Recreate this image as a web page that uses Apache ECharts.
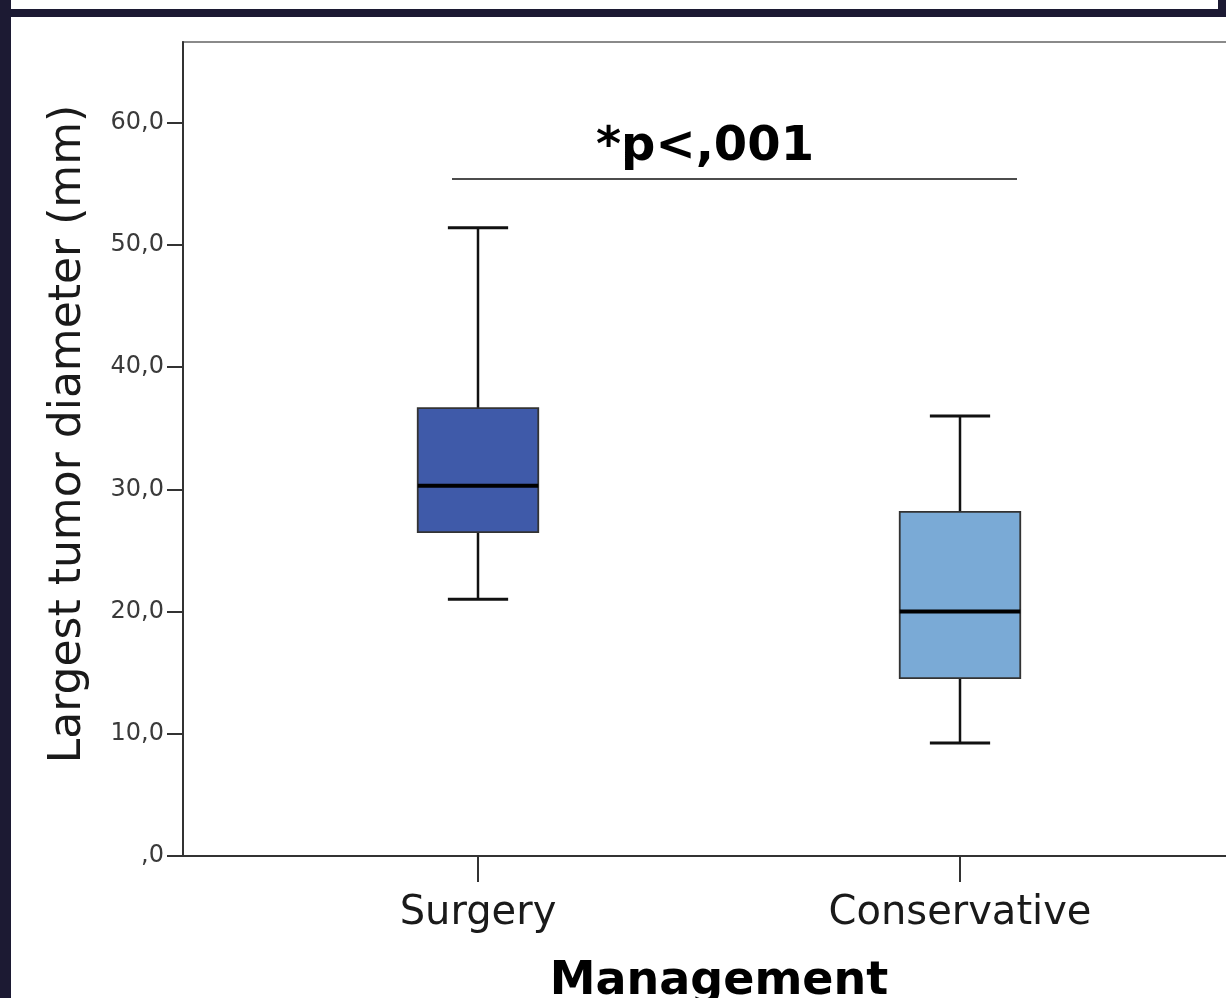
<!DOCTYPE html>
<html>
<head>
<meta charset="utf-8">
<script src="https://cdn.jsdelivr.net/npm/echarts@6/dist/echarts.min.js"></script>
<style>
html,body{margin:0;padding:0;background:#fff;}
#chart{width:1226px;height:998px;}
</style>
</head>
<body>
<div id="chart"></div>
<script>
// ---- data ----
const categories = ['Surgery', 'Conservative'];
const whiskerLow = [21.0, 9.25];
const q1Values = [26.5, 14.55];
const medianValues = [30.3, 20.0];
const q3Values = [36.65, 28.15];
const whiskerHigh = [51.4, 36.0];
const yTickValues = [0, 10, 20, 30, 40, 50, 60];
const boxColors = ['#3f5aa9', '#7aaad6'];
const yAxisMax = 66.6;
const pValueText = '*p<,001';

const seriesData = categories.map((c, i) => [i, whiskerLow[i], q1Values[i], medianValues[i], q3Values[i], whiskerHigh[i]]);

function fmtTick(v) {
  return v === 0 ? ',0' : v + ',0';
}

const chart = echarts.init(document.getElementById('chart'), null, {renderer: 'canvas'});

const option = {
  backgroundColor: '#ffffff',
  animation: false,
  grid: [
    {left: 183, top: 42, right: -20, bottom: 142, outerBoundsMode: 'none', containLabel: false,
      show: true, borderColor: '#8a8a8a', borderWidth: 2, backgroundColor: 'transparent'},
    {left: 237, top: 42, right: 25, bottom: 142, outerBoundsMode: 'none', containLabel: false}
  ],
  xAxis: [
    {
      gridIndex: 0, type: 'value', min: 0, max: 1,
      axisLine: {show: true, lineStyle: {color: '#333', width: 2}},
      axisTick: {show: false}, axisLabel: {show: false}, splitLine: {show: false}
    },
    {
      gridIndex: 1, type: 'category', data: categories,
      axisLine: {show: false},
      axisTick: {show: true, alignWithLabel: true, length: 26, lineStyle: {color: '#333', width: 2}},
      axisLabel: {fontFamily: 'DejaVu Sans', fontSize: 40, color: '#1a1a1a', margin: 38},
      splitLine: {show: false},
      name: 'Management', nameLocation: 'middle', nameGap: 103,
      nameTextStyle: {fontFamily: 'DejaVu Sans', fontWeight: 'bold', fontSize: 46, color: '#000'}
    }
  ],
  yAxis: [
    {
      gridIndex: 0, type: 'value', min: 0, max: yAxisMax,
      axisLine: {show: true, lineStyle: {color: '#333', width: 2}},
      axisTick: {show: true, inside: false, length: 16, customValues: yTickValues, lineStyle: {color: '#333', width: 2}},
      axisLabel: {customValues: yTickValues, formatter: fmtTick, fontFamily: 'DejaVu Sans', fontSize: 24, color: '#3a3a3a', margin: 19, padding: [4, 0, 0, 0]},
      splitLine: {show: false},
      name: 'Largest tumor diameter (mm)', nameLocation: 'middle', nameGap: 92,
      nameTextStyle: {fontFamily: 'DejaVu Sans', fontSize: 44, color: '#1a1a1a', padding: [0, 0, 0, 30]}
    },
    {
      gridIndex: 1, type: 'value', min: 0, max: yAxisMax, show: false,
      splitLine: {show: false}
    }
  ],
  series: [
    {
      type: 'custom',
      xAxisIndex: 1, yAxisIndex: 1,
      data: seriesData,
      encode: {x: 0, y: [1, 2, 3, 4, 5]},
      renderItem: function (params, api) {
        const idx = api.value(0);
        const band = api.size([1, 0])[0];
        const halfBox = band * 0.25 / 2;
        const halfCap = band * 0.125 / 2;
        const pLow = api.coord([idx, api.value(1)]);
        const pQ1 = api.coord([idx, api.value(2)]);
        const pMed = api.coord([idx, api.value(3)]);
        const pQ3 = api.coord([idx, api.value(4)]);
        const pHigh = api.coord([idx, api.value(5)]);
        const cx = pMed[0];
        const whisker = {stroke: '#111', lineWidth: 2.5};
        const cap = {stroke: '#111', lineWidth: 3};
        return {
          type: 'group',
          children: [
            {type: 'line', shape: {x1: cx, y1: pHigh[1], x2: cx, y2: pQ3[1]}, style: whisker},
            {type: 'line', shape: {x1: cx, y1: pQ1[1], x2: cx, y2: pLow[1]}, style: whisker},
            {type: 'line', shape: {x1: cx - halfCap, y1: pHigh[1], x2: cx + halfCap, y2: pHigh[1]}, style: cap},
            {type: 'line', shape: {x1: cx - halfCap, y1: pLow[1], x2: cx + halfCap, y2: pLow[1]}, style: cap},
            {type: 'rect', shape: {x: cx - halfBox, y: pQ3[1], width: halfBox * 2, height: pQ1[1] - pQ3[1]},
              style: {fill: boxColors[idx], stroke: '#333', lineWidth: 1.8}},
            {type: 'line', shape: {x1: cx - halfBox, y1: pMed[1], x2: cx + halfBox, y2: pMed[1]}, style: {stroke: '#000', lineWidth: 4}}
          ]
        };
      }
    }
  ],
  graphic: [
    // page frame decorations
    {type: 'rect', shape: {x: 0, y: 0, width: 11, height: 998}, style: {fill: '#1c1a33'}, z: 100},
    {type: 'rect', shape: {x: 0, y: 9, width: 1226, height: 8}, style: {fill: '#1c1a33'}, z: 100},
    {type: 'rect', shape: {x: 1218, y: 0, width: 8, height: 17}, style: {fill: '#1c1a33'}, z: 100},
    // significance annotation
    {type: 'line', shape: {x1: 452, y1: 179, x2: 1017, y2: 179}, style: {stroke: '#111', lineWidth: 1.5}, z: 100},
    {type: 'text', x: 705, y: 148, style: {text: pValueText, fontFamily: 'DejaVu Sans', fontWeight: 'bold', fontSize: 48, fill: '#000', textAlign: 'center', textVerticalAlign: 'middle'}, z: 100}
  ]
};

chart.setOption(option);
</script>
</body>
</html>
